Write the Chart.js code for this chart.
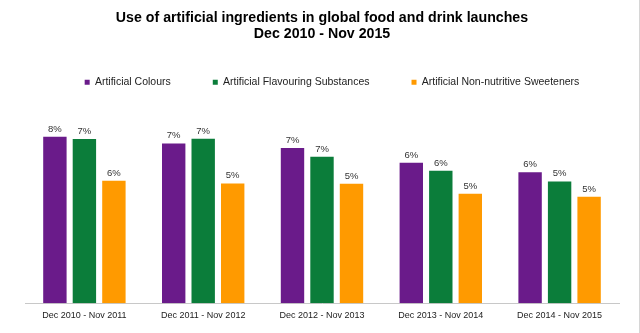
<!DOCTYPE html>
<html>
<head>
<meta charset="utf-8">
<script src="https://cdn.jsdelivr.net/npm/chart.js@4.4.0/dist/chart.umd.min.js"></script>
<style>
  html, body { margin: 0; padding: 0; background: #fff; }
  #wrap { width: 639px; height: 333px; border-right: 1px solid #d6d6d6; }
</style>
</head>
<body>
<div id="wrap"><canvas id="chart" width="639" height="333"></canvas></div>
<script>
const periods = ['Dec 2010 - Nov 2011', 'Dec 2011 - Nov 2012', 'Dec 2012 - Nov 2013', 'Dec 2013 - Nov 2014', 'Dec 2014 - Nov 2015'];
const colours = [7.51, 7.20, 7.00, 6.33, 5.91];
const flavouring = [7.40, 7.42, 6.60, 5.97, 5.49];
const sweeteners = [5.52, 5.40, 5.39, 4.93, 4.80];

Chart.defaults.font.family = '"Liberation Sans", Arial, sans-serif';

// value labels over each bar, rounded like the original
const barLabels = {
    id: 'barLabels',
    afterDatasetsDraw(chart) {
        const ctx = chart.ctx;
        ctx.save();
        ctx.font = '9.5px "Liberation Sans", Arial, sans-serif';
        ctx.fillStyle = '#333';
        ctx.textAlign = 'center';
        ctx.textBaseline = 'bottom';
        chart.data.datasets.forEach((ds, i) => {
            chart.getDatasetMeta(i).data.forEach((bar, j) => {
                ctx.fillText(Math.round(ds.data[j]) + '%', bar.x, bar.y - 3);
            });
        });
        ctx.restore();
    }
};

// legend sits a little right of centre and closer to the title
const nudgeLegend = {
    id: 'nudgeLegend',
    afterLayout(chart) {
        const lg = chart.legend;
        lg.left += 10; lg.right += 10;
        lg.top -= 7; lg.bottom -= 7;
    }
};

new Chart(document.getElementById('chart'), {
    type: 'bar',
    data: {
        labels: periods,
        datasets: [{
            label: 'Artificial Colours',
            data: colours,
            backgroundColor: '#6a1b8a'
        }, {
            label: 'Artificial Flavouring Substances',
            data: flavouring,
            backgroundColor: '#0b7d3a'
        }, {
            label: 'Artificial Non-nutritive Sweeteners',
            data: sweeteners,
            backgroundColor: '#ff9a00'
        }]
    },
    options: {
        responsive: false,
        animation: false,
        layout: { padding: { left: 25, right: 20, top: 0, bottom: 5 } },
        datasets: {
            bar: { categoryPercentage: 0.745, barPercentage: 0.793 }
        },
        plugins: {
            title: {
                display: true,
                text: ['Use of artificial ingredients in global food and drink launches', 'Dec 2010 - Nov 2015'],
                color: '#000',
                font: { size: 14.2, weight: 'bold', lineHeight: 16 / 14.2 },
                padding: { top: 10, bottom: 0 }
            },
            legend: {
                labels: {
                    boxWidth: 5,
                    boxHeight: 5,
                    padding: 42,
                    color: '#222',
                    font: { size: 10.5 }
                }
            },
            tooltip: { enabled: false }
        },
        scales: {
            x: {
                grid: { display: false, drawTicks: false },
                border: { display: true, color: '#c8c8c8', width: 1 },
                ticks: { color: '#222', padding: 7, font: { size: 9 } }
            },
            y: {
                display: false,
                min: 0,
                max: 8.96
            }
        }
    },
    plugins: [barLabels, nudgeLegend]
});
</script>
</body>
</html>
